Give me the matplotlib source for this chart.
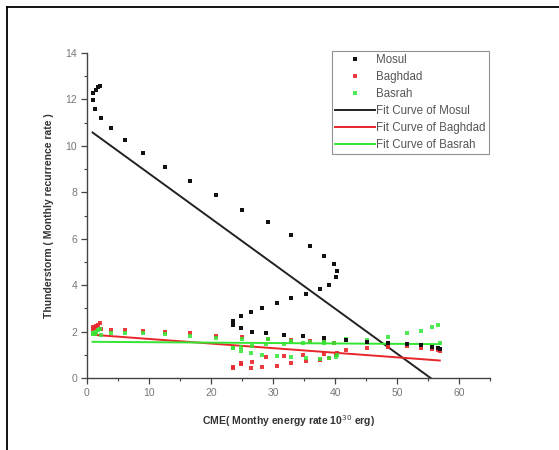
import matplotlib
matplotlib.use("Agg")
import matplotlib.pyplot as plt
from matplotlib.lines import Line2D
import numpy as np

plt.rcParams['font.family'] = ['Liberation Sans', 'DejaVu Sans']

# Monthly CME energy rate (10^30 erg), shared by all three stations
cme_energy = [2.1, 1.8, 1.4, 1.0, 0.9, 1.3, 2.3, 3.9, 6.1, 9.05,
              12.65, 16.6, 20.85, 25.0, 29.15, 32.9, 36.0, 38.3, 39.8, 40.4,
              40.1, 39.1, 37.5, 35.3, 32.9, 30.6, 28.2, 26.4, 24.8, 23.6,
              23.6, 24.9, 26.6, 28.9, 31.7, 34.9, 38.3, 41.8, 45.2, 48.6,
              51.6, 53.8, 55.6, 56.6, 56.9]

# Monthly thunderstorm recurrence rate per station
mosul = [12.6, 12.55, 12.4, 12.27, 11.98, 11.6, 11.2, 10.78, 10.26, 9.7,
         9.1, 8.49, 7.89, 7.24, 6.7, 6.15, 5.69, 5.27, 4.93, 4.61,
         4.34, 4.02, 3.82, 3.6, 3.43, 3.21, 3.0, 2.83, 2.67, 2.45,
         2.3, 2.15, 2.0, 1.92, 1.85, 1.8, 1.71, 1.64, 1.56, 1.52,
         1.47, 1.42, 1.35, 1.3, 1.24]
baghdad = [2.35, 2.3, 2.25, 2.2, 2.1, 2.15, 2.1, 2.07, 2.07, 2.04,
           2.0, 1.92, 1.81, 1.78, 1.7, 1.65, 1.6, 1.55, 1.5, 1.09,
           1.0, 0.85, 0.78, 0.73, 0.63, 0.52, 0.46, 0.43, 0.63, 0.46,
           0.43, 0.6, 0.7, 0.89, 0.95, 1.0, 1.05, 1.2, 1.3, 1.35,
           1.4, 1.3, 1.25, 1.2, 1.15]
basrah = [2.1, 2.05, 2.0, 1.95, 1.9, 1.9, 1.85, 1.95, 1.95, 1.92,
          1.9, 1.82, 1.72, 1.7, 1.66, 1.6, 1.55, 1.5, 1.5, 1.0,
          0.9, 0.85, 0.8, 0.85, 0.9, 0.93, 1.0, 1.09, 1.15, 1.28,
          1.3, 1.35, 1.4, 1.45, 1.45, 1.5, 1.55, 1.66, 1.62, 1.78,
          1.92, 2.02, 2.21, 2.28, 1.5]

# Linear fit coefficients (intercept, slope)
fit_mosul = (10.75, -0.194)
fit_baghdad = (1.88, -0.0198)
fit_basrah = (1.56, -0.0018)

x_ticks = [0, 10, 20, 30, 40, 50, 60]
y_ticks = [0, 2, 4, 6, 8, 10, 12, 14]

W, H = 559, 450
fig = plt.figure(figsize=(W / 100, H / 100), dpi=100)
ax = fig.add_axes([87 / W, 1 - 378 / H, (490 - 87) / W, (378 - 53) / H])

x = np.array(cme_energy)
c_red = '#e8262a'
c_green = '#33e633'
ms = 3.4
ax.plot(x, mosul, 's', color='#111111', ms=ms, mew=0, label='Mosul', zorder=4)
ax.plot(x, baghdad, 's', color=c_red, ms=ms, mew=0, label='Baghdad', alpha=0.9, zorder=3)
ax.plot(x, basrah, 's', color=c_green, ms=ms, mew=0, label='Basrah', alpha=0.85, zorder=3)

xf = np.array([x.min(), x.max()])
for (b0, b1), col, name in [(fit_mosul, '#222222', 'Mosul'),
                            (fit_baghdad, c_red, 'Baghdad'),
                            (fit_basrah, c_green, 'Basrah')]:
    ax.plot(xf, b0 + b1 * xf, '-', color=col, lw=1.4,
            label='Fit Curve of ' + name, zorder=2)

ax.set_xlim(0, 65)
ax.set_ylim(0, 14)
ax.set_xticks(x_ticks)
ax.set_yticks(y_ticks)
ax.set_xticks(np.arange(0, 66, 5), minor=True)
ax.set_yticks(np.arange(0, 15, 1), minor=True)
for s in ['top', 'right']:
    ax.spines[s].set_visible(False)
for s in ['left', 'bottom']:
    ax.spines[s].set_color('#444444')
    ax.spines[s].set_linewidth(1.0)
ax.tick_params(which='major', direction='out', length=4, width=0.9,
               color='#444444', labelsize=7.5, labelcolor='#777777', pad=3)
ax.tick_params(which='minor', direction='out', length=2.5, width=0.8,
               color='#444444')

ax.set_xlabel('CME( Monthy energy rate 10$^{30}$ erg)', fontsize=7.5,
              fontweight='bold', color='#333333', labelpad=11)
ax.set_ylabel('Thunderstorm ( Monthly recurrence rate )', fontsize=7.5,
              fontweight='bold', color='#333333', labelpad=8)

leg = ax.legend(loc='upper left', bbox_to_anchor=(332 / W, 1 - 51 / H),
                bbox_transform=fig.transFigure, fontsize=8.3, frameon=True,
                fancybox=False, edgecolor='#777777', handlelength=3.4,
                handletextpad=0.1, labelspacing=0.42, borderpad=0.3,
                borderaxespad=0, markerscale=0.8)
leg.get_frame().set_linewidth(0.8)
for t in leg.get_texts():
    t.set_color('#555555')

# page border around the figure
fig.add_artist(Line2D([6.5 / W, 6.5 / W], [0, 1 - 6.5 / H],
                      transform=fig.transFigure, color='black', lw=1.3))
fig.add_artist(Line2D([6.5 / W, 1], [1 - 6.5 / H, 1 - 6.5 / H],
                      transform=fig.transFigure, color='black', lw=1.3))

fig.savefig('out.png', dpi=100, facecolor='white')
